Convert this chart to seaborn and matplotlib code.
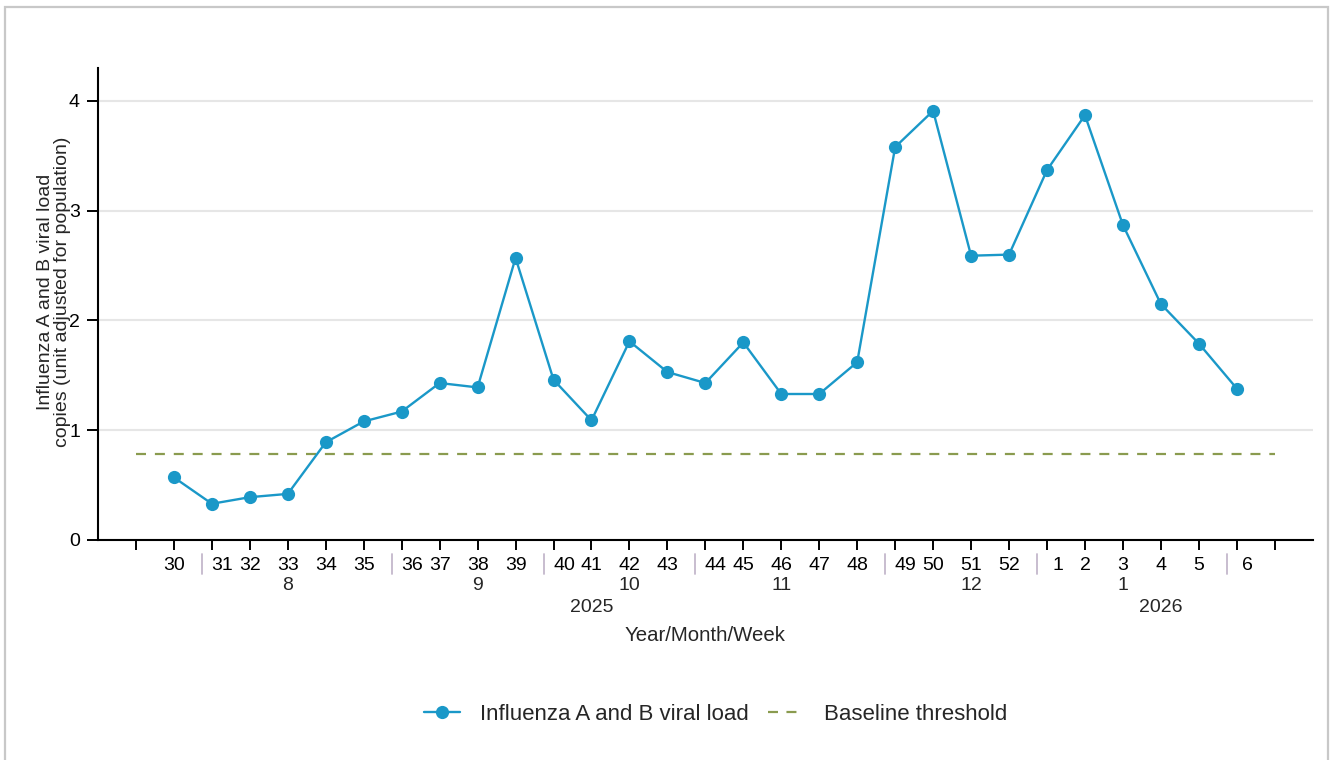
import numpy as np
import pandas as pd
import matplotlib
matplotlib.use("Agg")
import matplotlib.pyplot as plt
import matplotlib.transforms as mtransforms
from matplotlib.patches import Rectangle
from matplotlib.lines import Line2D
import seaborn as sns

# weekly data
weeks = [30, 31, 32, 33, 34, 35, 36, 37, 38, 39, 40, 41, 42, 43, 44, 45, 46, 47, 48,
         49, 50, 51, 52, 1, 2, 3, 4, 5, 6]
months = [7, 8, 8, 8, 8, 8, 9, 9, 9, 9, 10, 10, 10, 10, 11, 11, 11, 11, 11,
          12, 12, 12, 12, 1, 1, 1, 1, 1, 2]
years = [2025] * 23 + [2026] * 6
viral_load = [0.57, 0.33, 0.39, 0.42, 0.89, 1.08, 1.17, 1.43, 1.39, 2.57, 1.46, 1.09,
              1.81, 1.53, 1.43, 1.80, 1.33, 1.33, 1.62, 3.58, 3.91, 2.59, 2.60, 3.37,
              3.87, 2.87, 2.15, 1.79, 1.38]
baseline = 0.785

LINE_COLOR = "#1a98c8"
BASE_COLOR = "#8a9b4f"
SEP_COLOR = "#c4b8cc"
FS = 14

df = pd.DataFrame({
    "pos": np.arange(1, len(weeks) + 1),
    "week": weeks,
    "month": months,
    "year": years,
    "load": viral_load,
})

sns.set_theme(style="white")
plt.rcParams["font.family"] = ["Liberation Sans", "DejaVu Sans"]

fig = plt.figure(figsize=(13.3, 7.6), dpi=100)
ax = fig.add_axes([0.0737, 0.2895, 0.9133, 0.621])
px = 72 / fig.dpi  # points per pixel

# outer frame of the figure
fig.patches.append(Rectangle((0.004, -0.02), 0.9945, 1.011, transform=fig.transFigure,
                             fill=False, edgecolor="#c8c8c8", lw=1.6, zorder=0))

ticks = np.arange(0, len(weeks) + 2)
ax.hlines(baseline, ticks[0], ticks[-1], colors=BASE_COLOR, linestyles=(0, (4.5, 4)),
          lw=1.6, zorder=2)
sns.lineplot(data=df, x="pos", y="load", ax=ax, color=LINE_COLOR, lw=1.7,
             marker="o", markersize=9.5, markeredgewidth=0, legend=False, zorder=3)

ax.set_xlim(-1, len(weeks) + 2)
ax.set_ylim(0, 4.3)
ax.set_yticks([0, 1, 2, 3, 4])
ax.yaxis.grid(True, color="#e6e6e6", lw=1.5)
ax.set_axisbelow(True)

ax.set_xticks(ticks)
ax.set_xticklabels([""] + [str(w) for w in weeks] + [""])
ax.tick_params(axis="both", which="major", bottom=True, left=True, labelsize=FS,
               colors="black", direction="out", width=1.4)
ax.tick_params(axis="y", length=8, pad=5)
ax.tick_params(axis="x", length=7.2, pad=5)

for side in ["top", "right"]:
    ax.spines[side].set_visible(False)
for side in ["left", "bottom"]:
    ax.spines[side].set_color("black")
    ax.spines[side].set_linewidth(1.5)

# month separators before the first week of each new month
xform = ax.get_xaxis_transform()
ax_h = ax.get_position().height * fig.get_figheight() * fig.dpi
label_shift = mtransforms.ScaledTranslation(10.5 / fig.dpi, 0, fig.dpi_scale_trans)
sep_shift = mtransforms.ScaledTranslation(-10 / fig.dpi, 0, fig.dpi_scale_trans)
labels = ax.get_xticklabels()
new_month = df.index[df["month"].ne(df["month"].shift()) & (df.index > 0)]
for i in new_month:
    p = df.loc[i, "pos"]
    labels[p].set_transform(labels[p].get_transform() + label_shift)
    sep = Line2D([p, p], [-14 / ax_h, -34 / ax_h], color=SEP_COLOR, lw=1.3,
                 transform=xform + sep_shift, clip_on=False)
    ax.add_artist(sep)

# month labels (only months with more than one week) and year labels
for _, grp in df.groupby((df["month"] != df["month"].shift()).cumsum()):
    if len(grp) > 1:
        p = grp["pos"].iloc[len(grp) // 2]
        ax.annotate(str(grp["month"].iloc[0]), xy=(p, 0), xycoords=xform,
                    xytext=(0, -46 * px), textcoords="offset points",
                    ha="center", va="center", fontsize=FS)
for y, grp in df.groupby("year"):
    p = grp["pos"].iloc[len(grp) // 2]
    ax.annotate(str(y), xy=(p, 0), xycoords=xform,
                xytext=(0, -68 * px), textcoords="offset points",
                ha="center", va="center", fontsize=FS)

ax.set_xlabel("Year/Month/Week", fontsize=14.7)
ax.xaxis.set_label_coords(0.5, -0.183)
ax.set_ylabel("Influenza A and B viral load\ncopies (unit adjusted for population)",
              fontsize=14, linespacing=1.0)
ax.yaxis.set_label_coords(-0.0226, 0.526)

legend_handles = [
    Line2D([], [], color=LINE_COLOR, lw=1.7, marker="o", markersize=9.5, markeredgewidth=0),
    Line2D([], [], color=BASE_COLOR, lw=1.6, linestyle=(0, (4.5, 3.8))),
]
fig.legend(legend_handles, ["Influenza A and B viral load", "Baseline threshold"],
           loc="center", bbox_to_anchor=(0.538, 0.0605), ncol=2, frameon=False,
           fontsize=16, handlelength=1.6, handletextpad=0.9, columnspacing=0.9)

fig.savefig("out.png", dpi=100)
